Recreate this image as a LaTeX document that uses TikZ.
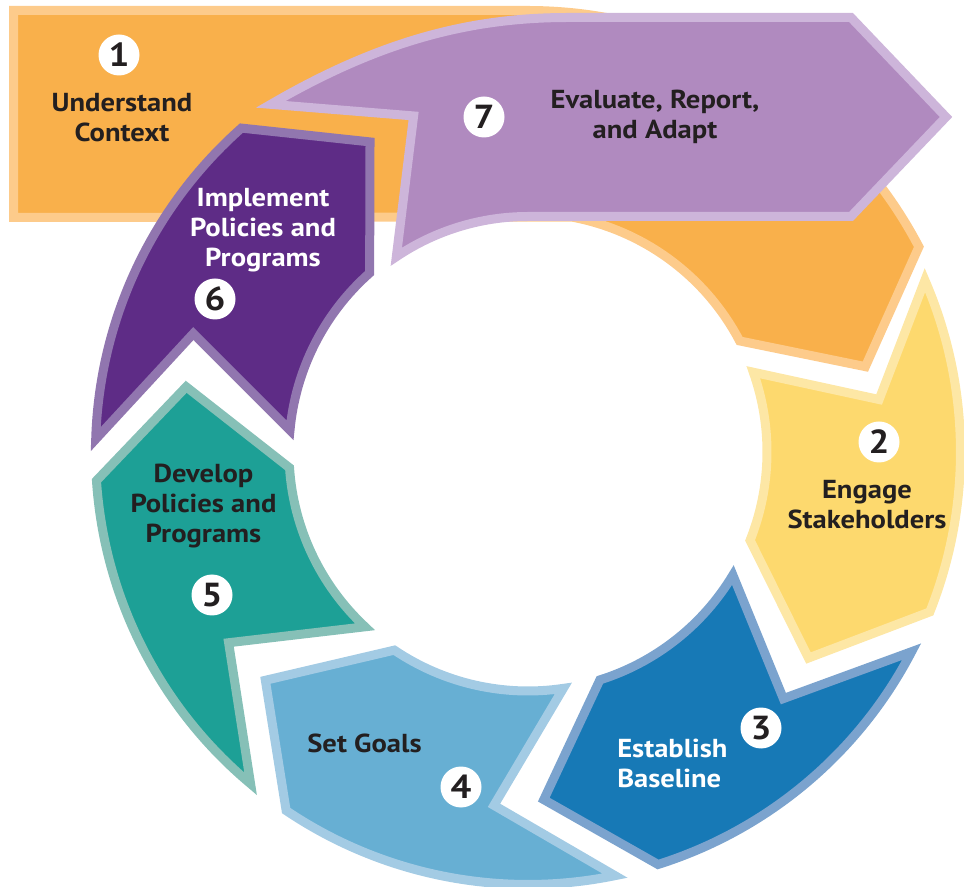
\documentclass[tikz,border=0pt]{standalone}
\usepackage{fontspec}
\setmainfont{PT Sans}[FakeStretch=1.1]
\definecolor{orangeF}{HTML}{F9B04B}\definecolor{orangeB}{HTML}{FDCB8B}
\definecolor{yellowF}{HTML}{FDD96E}\definecolor{yellowB}{HTML}{FDE7A5}
\definecolor{blueF}{HTML}{1779B6}\definecolor{blueB}{HTML}{7BA3CE}
\definecolor{skyF}{HTML}{67AFD3}\definecolor{skyB}{HTML}{A3CBE4}
\definecolor{tealF}{HTML}{1DA096}\definecolor{tealB}{HTML}{86C0B7}
\definecolor{plumF}{HTML}{5E2C86}\definecolor{plumB}{HTML}{9176AF}
\definecolor{lilacF}{HTML}{B08ABF}\definecolor{lilacB}{HTML}{CDB5DA}
\definecolor{ink}{HTML}{231F20}
% ring radii (outer, inner, tip, notch)
\def\Ro{432.5}\def\Ri{239}\def\Rt{348}\def\Rn{355}
% one chevron segment of the ring:
% #1 outer start angle, #2 inner start angle, #3 notch angle,
% #4 end angle, #5 tip angle, #6 style
\newcommand{\ringseg}[6]{\path[#6] (#1:\Ro) arc[start angle=#1,end angle=#4,radius=\Ro]
  -- (#5:\Rt) -- (#4:\Ri) arc[start angle=#4,end angle=#2,radius=\Ri] -- (#3:\Rn) -- cycle;}
\begin{document}
\begin{tikzpicture}[x=0.75pt,y=0.75pt,
  seg/.style 2 args={fill=#1,draw=#2,line width=6.75pt,line join=miter},
  lbl/.style={font=\bfseries\fontsize{19.5}{22.5}\selectfont,align=center,inner sep=0pt,text=ink},
  num/.style={circle,fill=white,minimum size=30.75pt,inner sep=0pt,
    font=\bfseries\fontsize{25}{25}\selectfont,text=ink}]
\useasboundingbox (0,0) rectangle (964,886);
\begin{scope}[shift={(528,434)}]
  % 1: context block joined to the first ring segment
  \path[seg={orangeF}{orangeB}] (-514.5,441.5) -- (0,441.5)
    arc[start angle=90,end angle=27.7,radius=441.5] -- (14.2:\Rt) -- (27.7:\Ri)
    arc[start angle=27.7,end angle=79.5,radius=\Ri] -- (-514.5,234.5) -- cycle;
  % 2 to 6
  \ringseg{23.4}{19.5}{8.5}{-21.7}{-36.3}{seg={yellowF}{yellowB}}
  \ringseg{-27.5}{-31}{-44}{-72.5}{-87.4}{seg={blueF}{blueB}}
  \ringseg{-78.4}{-81.5}{-95.5}{-124}{-139}{seg={skyF}{skyB}}
  \ringseg{-129.9}{-133}{-147.5}{-176.2}{-190.8}{seg={tealF}{tealB}}
  \ringseg{-181.7}{-185.2}{-199.5}{-228.5}{-243}{seg={plumF}{plumB}}
  % 7: arrow leaving the ring to the right
  \path[seg={lilacF}{lilacB}] (126.5:\Ro) .. controls (-150,410) and (-60,434.5) .. (40,434.5)
    -- (323,434.5) -- (418,335) -- (323,235.5) -- (0,235.5)
    arc[start angle=90,end angle=124,radius=235.5] -- (108.8:\Rn) -- cycle;
\end{scope}
% step labels
\node[lbl] (t1) at (122,768) {Understand\\Context};
\node[lbl] (t2) at (867,381) {Engage\\Stakeholders};
\node[lbl,text=white,align=left,anchor=west] (t3) at (617,123) {Establish\\Baseline};
\node[lbl] (t4) at (364.5,143) {Set Goals};
\node[lbl] (t5) at (203.5,380) {Develop\\Policies and\\Programs};
\node[lbl,text=white] (t6) at (263,655.5) {Implement\\Policies and\\Programs};
\node[lbl] (t7) at (655,769) {Evaluate, Report,\\and Adapt};
% step numbers
\node[num] (n1) at (119,831) {1};
\node[num] (n2) at (879,444) {2};
\node[num] (n3) at (761,158) {3};
\node[num] (n4) at (461,99) {4};
\node[num] (n5) at (212,291) {5};
\node[num] (n6) at (215,587) {6};
\node[num] (n7) at (484,769) {7};
\end{tikzpicture}
\end{document}
